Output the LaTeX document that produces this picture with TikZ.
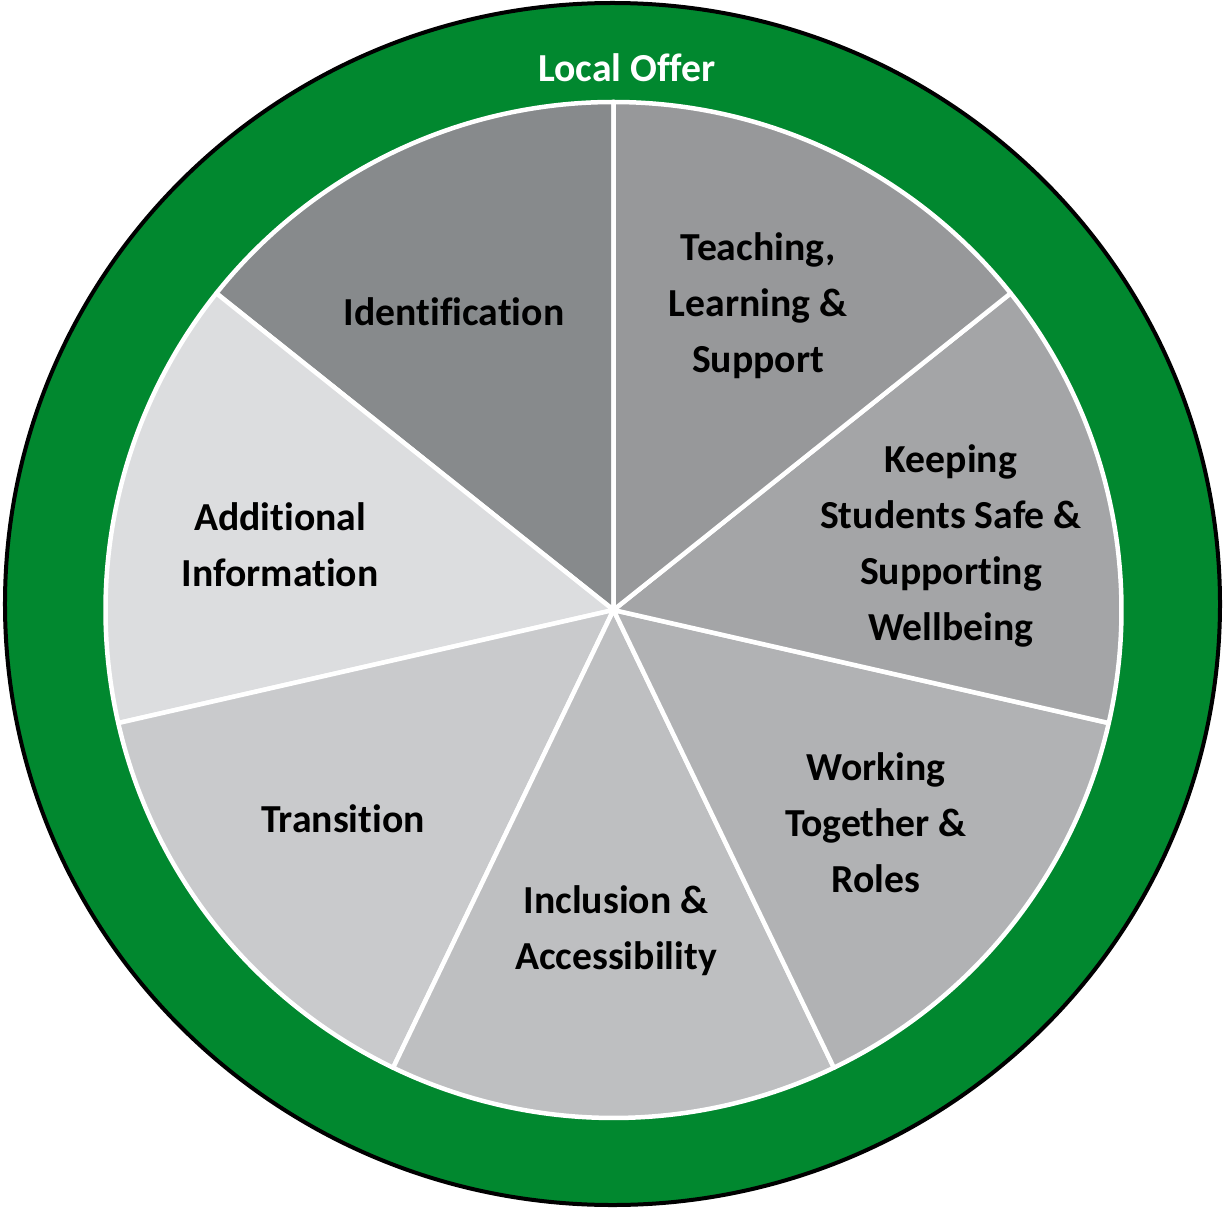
\documentclass[tikz,border=0pt]{standalone}
\usepackage{fontspec}
\setmainfont{Carlito}[RawFeature={-liga;-clig;-calt;-dlig}]
\definecolor{offergreen}{HTML}{01882F}
\definecolor{identgray}{HTML}{878A8C}
\definecolor{teachgray}{HTML}{97989A}
\definecolor{safegray}{HTML}{A4A5A7}
\definecolor{workgray}{HTML}{B1B2B4}
\definecolor{inclgray}{HTML}{BEBFC1}
\definecolor{transgray}{HTML}{C9CACC}
\definecolor{addgray}{HTML}{DCDDDF}

\begin{document}
\begin{tikzpicture}[
  slice/.style={draw=white, line width=0.09cm, line join=round},
  sectortext/.style={font=\fontsize{22.6}{31.9}\selectfont\bfseries, align=center, text=black},
  rim/.style={fill=offergreen, draw=black, line width=0.08cm}
]
  \useasboundingbox (-12.27,-11.96) rectangle (12.19,12.20);
  \coordinate (hub) at (0,0);

  % outer ring
  \filldraw[rim] (-0.02,0.12) ellipse [x radius=12.15, y radius=12.02];

  % the seven slices
  \foreach \a/\c in {90/identgray, 141.43/addgray, 192.86/transgray, 244.29/inclgray,
                     295.71/workgray, 347.14/safegray, 398.57/teachgray}
    \filldraw[slice, fill=\c] (hub) -- ++(\a:10.16) arc[start angle=\a, delta angle=51.43, radius=10.16] -- cycle;

  \node (offer) [sectortext, text=white] at (0.27,10.84) {Local Offer};
  \node (ident) [sectortext] at (-3.19,5.96) {Identification};
  \node (teach) [sectortext] at (2.89,6.09) {Teaching,\\Learning \&\\Support};
  \node (safe) [sectortext] at (6.75,1.28) {Keeping\\Students Safe \&\\Supporting\\Wellbeing};
  \node (work) [sectortext] at (5.25,-4.26) {Working\\Together \&\\Roles};
  \node (incl) [sectortext] at (0.05,-6.42) {Inclusion \&\\Accessibility};
  \node (trans) [sectortext] at (-5.41,-4.18) {Transition};
  \node (addinfo) [sectortext] at (-6.67,1.30) {Additional\\Information};
\end{tikzpicture}
\end{document}
